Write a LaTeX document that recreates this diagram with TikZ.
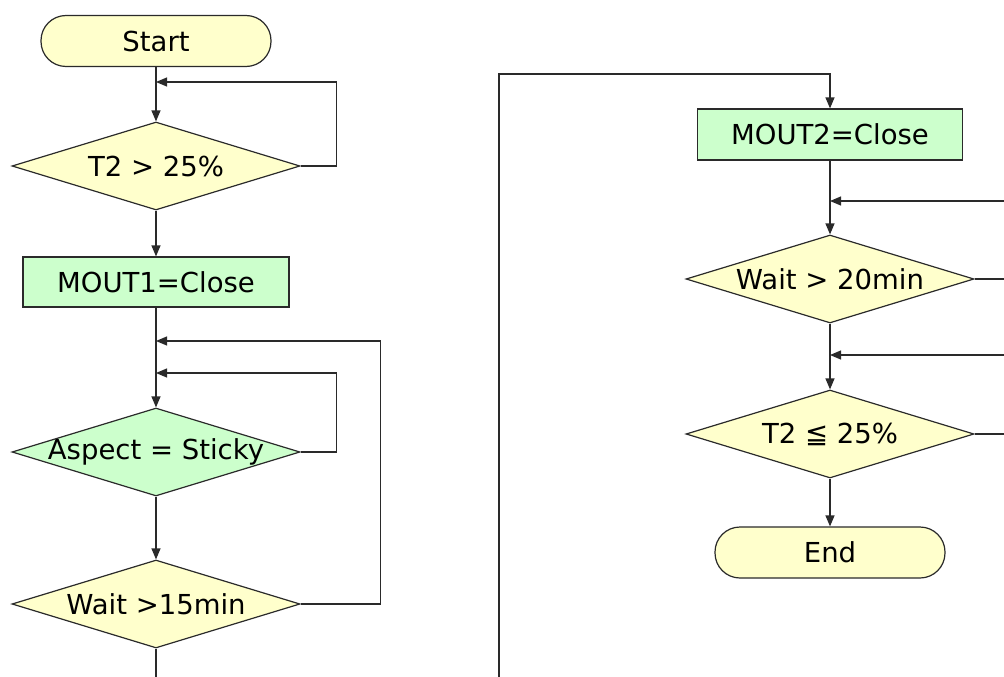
\documentclass[tikz,border=0pt]{standalone}
\usepackage{fontspec}
\setmainfont{DejaVu Sans}
\usetikzlibrary{shapes.geometric,arrows.meta}
\definecolor{paleyellow}{HTML}{FFFFCC}
\definecolor{palegreen}{HTML}{CCFFCC}
\definecolor{edge}{HTML}{2A2A2A}
\begin{document}
\begin{tikzpicture}[x=1pt,y=-1pt,
  every node/.style={font=\fontsize{27.5}{32}\selectfont, text=black},
  terminal/.style={draw=edge, line width=1.2pt, fill=paleyellow, rounded corners=25pt,
    minimum width=230pt, minimum height=51pt, inner sep=0pt},
  process/.style={draw=edge, line width=1.2pt, fill=palegreen,
    minimum width=266pt, minimum height=50pt, inner sep=0pt},
  decision/.style={draw=edge, line width=1.2pt, fill=paleyellow, diamond,
    minimum width=288pt, minimum height=88pt, inner sep=0pt},
  greendecision/.style={decision, fill=palegreen},
  flow/.style={draw=edge, line width=1.2pt, -{Triangle[length=11pt,width=9pt]}},
  plain/.style={draw=edge, line width=1.2pt}]
\useasboundingbox (0,0) rectangle (1004,677);

% left column
\node[terminal] (start) at (156,41) {Start};
\node[decision, label={center:T2 > 25\%}] (t2hi) at (156,166) {};
\node[process] (mout1) at (156,282) {MOUT1=Close};
\node[greendecision, label={center:Aspect = Sticky}] (aspect) at (156,452) {};
\node[decision, label={center:Wait >15min}] (wait15) at (156,604) {};

\coordinate (loopA) at (156,82);
\coordinate (loopB) at (156,341);
\coordinate (loopC) at (156,373);
\coordinate (leftout) at (156,677);

\draw[flow] (start.south) -- (t2hi.north);
\draw[flow] (t2hi.east) -- ++(36,0) |- (loopA);
\draw[flow] (t2hi.south) -- (mout1.north);
\draw[flow] (mout1.south) -- (aspect.north);
\draw[flow] (aspect.east) -- ++(36,0) |- (loopC);
\draw[flow] (wait15.east) -- ++(80,0) |- (loopB);
\draw[flow] (aspect.south) -- (wait15.north);
\draw[plain] (wait15.south) -- (leftout);

% right column
\node[process, minimum width=265pt, minimum height=51pt] (mout2) at (830,134.5) {MOUT2=Close};
\node[decision, label={center:Wait > 20min}] (wait20) at (830,279) {};
\node[decision, label={center:T2 ≦ 25\%}] (t2lo) at (830,434) {};
\node[terminal] (finish) at (830,552.5) {End};

\coordinate (rightin) at (499,677);
\coordinate (topturn) at (499,74);
\coordinate (retA) at (1004,201);
\coordinate (retB) at (1004,355);
\coordinate (outA) at (1004,279);
\coordinate (outB) at (1004,434);
\coordinate (joinA) at (830,201);
\coordinate (joinB) at (830,355);

\draw[flow] (rightin) -- (topturn) -| (mout2.north);
\draw[flow] (mout2.south) -- (wait20.north);
\draw[flow] (retA) -- (joinA);
\draw[plain] (wait20.east) -- (outA);
\draw[flow] (wait20.south) -- (t2lo.north);
\draw[flow] (retB) -- (joinB);
\draw[plain] (t2lo.east) -- (outB);
\draw[flow] (t2lo.south) -- (finish.north);
\end{tikzpicture}
\end{document}
